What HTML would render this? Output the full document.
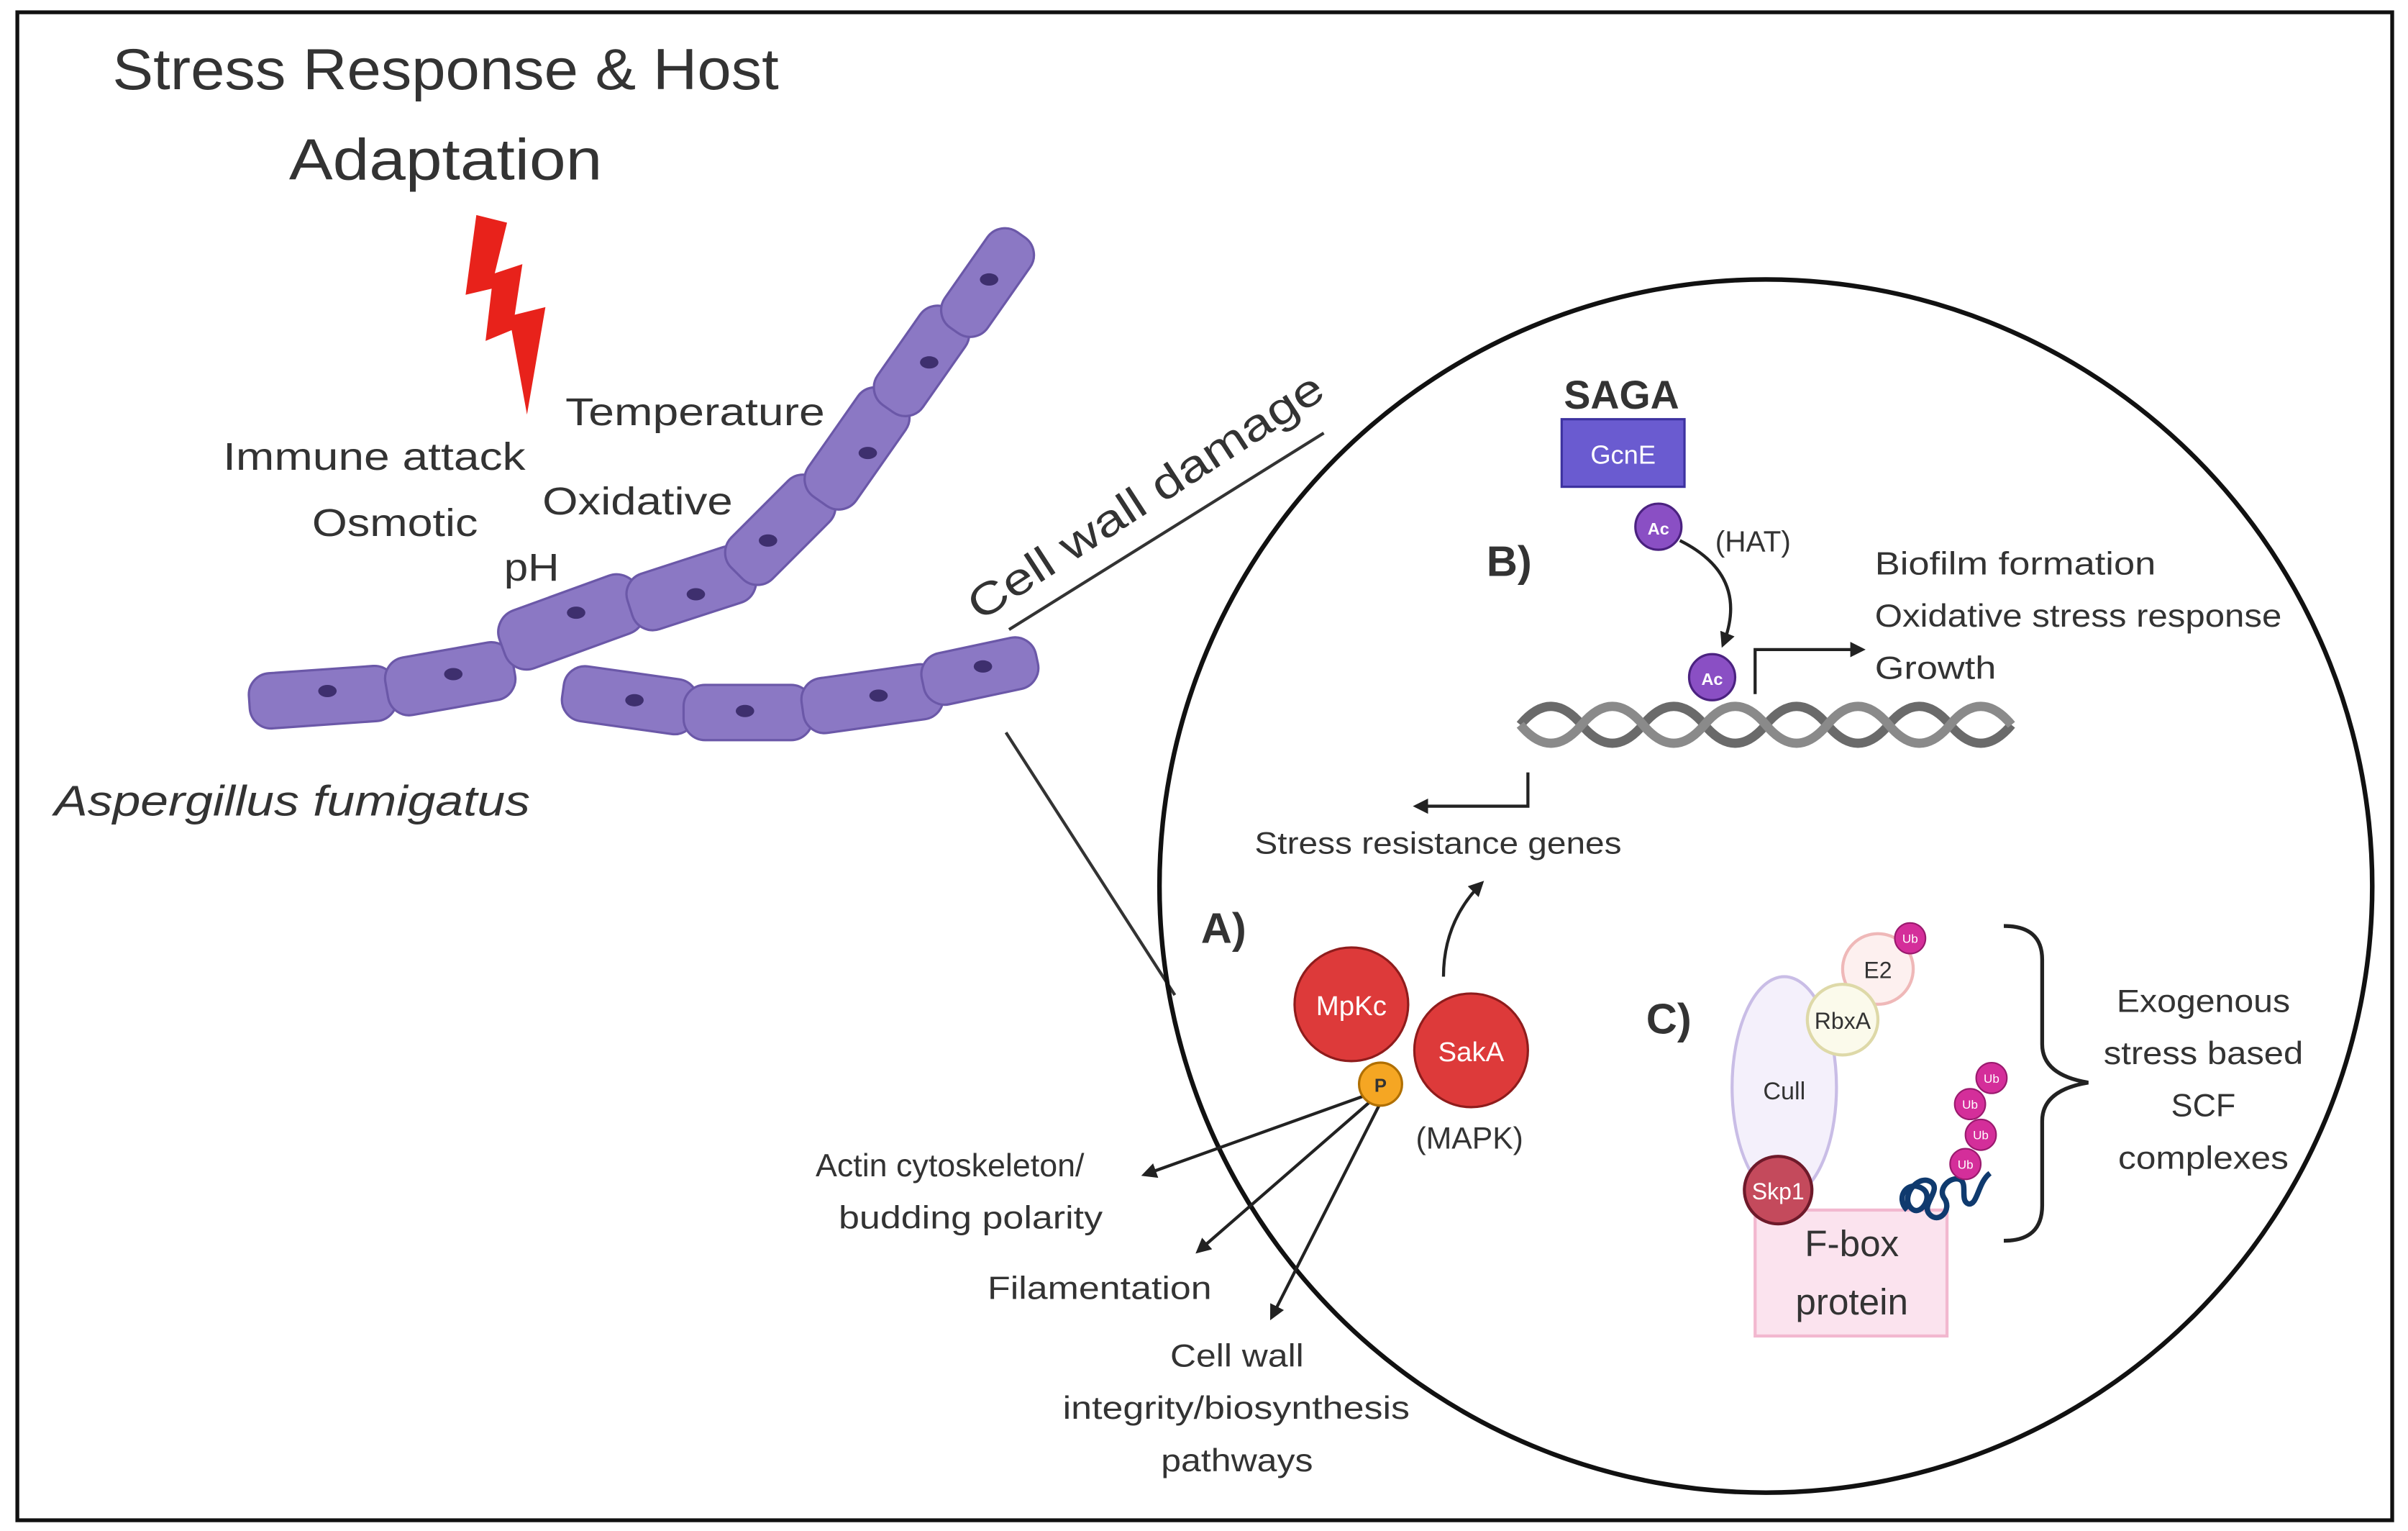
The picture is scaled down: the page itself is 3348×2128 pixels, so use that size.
<!DOCTYPE html>
<html><head><meta charset="utf-8"><style>
html,body{margin:0;padding:0;background:#fff}
svg{display:block}
text{font-family:"Liberation Sans",sans-serif;fill:#333}
</style></head><body>
<svg width="3348" height="2128" viewBox="0 0 1568 997" xmlns="http://www.w3.org/2000/svg">
<defs>
<marker id="ar" markerWidth="10" markerHeight="10" refX="8" refY="5" orient="auto" markerUnits="userSpaceOnUse"><path d="M0,0 L10,5 L0,10 z" fill="#222"/></marker>
</defs>
<rect x="0" y="0" width="1568" height="997" fill="#fff"/>
<rect x="11" y="8" width="1547" height="982" fill="none" stroke="#111" stroke-width="2.5"/>

<text x="73" y="58" font-size="38" textLength="434" lengthAdjust="spacingAndGlyphs">Stress Response &amp; Host</text>
<text x="188" y="117" font-size="38" textLength="204" lengthAdjust="spacingAndGlyphs">Adaptation</text>

<path d="M310,140 L330,145 L322,178 L340,172 L335,205 L355,200 L343,270 L333,215 L316,222 L320,188 L303,192 Z" fill="#e8221b"/>

<text x="368" y="277" font-size="25" textLength="169" lengthAdjust="spacingAndGlyphs">Temperature</text>
<text x="145" y="306" font-size="25" textLength="197" lengthAdjust="spacingAndGlyphs">Immune attack</text>
<text x="353" y="335" font-size="25" textLength="124" lengthAdjust="spacingAndGlyphs">Oxidative</text>
<text x="203" y="349" font-size="25" textLength="108" lengthAdjust="spacingAndGlyphs">Osmotic</text>
<text x="328" y="378" font-size="25" textLength="36" lengthAdjust="spacingAndGlyphs">pH</text>

<g fill="#8b78c4" stroke="#6b58a8" stroke-width="1.5">
<g transform="translate(210,454) rotate(-4)"><rect x="-48" y="-18" width="96" height="36" rx="14"/></g>
<g transform="translate(293,442) rotate(-10)"><rect x="-42" y="-19" width="84" height="38" rx="14"/></g>
<g transform="translate(410,456) rotate(8)"><rect x="-44" y="-18" width="88" height="36" rx="14"/></g>
<g transform="translate(487,464) rotate(0)"><rect x="-42" y="-18" width="84" height="36" rx="14"/></g>
<g transform="translate(568,455) rotate(-8)"><rect x="-46" y="-18" width="92" height="36" rx="14"/></g>
<g transform="translate(638,437) rotate(-12)"><rect x="-38" y="-17" width="76" height="34" rx="14"/></g>
<g transform="translate(372,405) rotate(-20)"><rect x="-48" y="-20" width="96" height="40" rx="15"/></g>
<g transform="translate(450,383) rotate(-18)"><rect x="-42" y="-19" width="84" height="38" rx="14"/></g>
<g transform="translate(508,345) rotate(-45)"><rect x="-40" y="-19" width="80" height="38" rx="14"/></g>
<g transform="translate(558,292) rotate(-55)"><rect x="-42" y="-19" width="84" height="38" rx="14"/></g>
<g transform="translate(600,235) rotate(-55)"><rect x="-38" y="-18" width="76" height="36" rx="14"/></g>
<g transform="translate(643,184) rotate(-55)"><rect x="-38" y="-17" width="76" height="34" rx="14"/></g>
</g>
<g fill="#3e2f6e">
<ellipse cx="213" cy="450" rx="6" ry="4"/><ellipse cx="295" cy="439" rx="6" ry="4"/>
<ellipse cx="413" cy="456" rx="6" ry="4"/><ellipse cx="485" cy="463" rx="6" ry="4"/>
<ellipse cx="572" cy="453" rx="6" ry="4"/><ellipse cx="640" cy="434" rx="6" ry="4"/>
<ellipse cx="375" cy="399" rx="6" ry="4"/><ellipse cx="453" cy="387" rx="6" ry="4"/>
<ellipse cx="500" cy="352" rx="6" ry="4"/><ellipse cx="565" cy="295" rx="6" ry="4"/>
<ellipse cx="605" cy="236" rx="6" ry="4"/><ellipse cx="644" cy="182" rx="6" ry="4"/>
</g>

<text x="35" y="531" font-size="28" font-style="italic" textLength="310" lengthAdjust="spacingAndGlyphs">Aspergillus fumigatus</text>

<text x="0" y="0" font-size="29" transform="translate(638,405) rotate(-33)" textLength="270" lengthAdjust="spacingAndGlyphs">Cell wall damage</text>

<line x1="657" y1="410" x2="862" y2="282" stroke="#333" stroke-width="2"/>
<line x1="655" y1="477" x2="765" y2="648" stroke="#333" stroke-width="2"/>

<circle cx="1150" cy="577" r="395" fill="none" stroke="#111" stroke-width="3"/>

<text x="1056" y="266" font-size="26" font-weight="bold" text-anchor="middle" fill="#222">SAGA</text>
<rect x="1017" y="273" width="80" height="44" fill="#6a5bd0" stroke="#3d32a0" stroke-width="1.5"/>
<text x="1057" y="302" font-size="17" text-anchor="middle" style="fill:#fff">GcnE</text>
<circle cx="1080" cy="343" r="15" fill="#8a4fc4" stroke="#4b2280" stroke-width="1.5"/>
<text x="1080" y="348" font-size="11" text-anchor="middle" style="fill:#fff" font-weight="bold">Ac</text>
<text x="1117" y="359" font-size="19">(HAT)</text>
<text x="968" y="375" font-size="28" font-weight="bold" fill="#222">B)</text>
<path d="M1094,352 Q1140,375 1122,420" fill="none" stroke="#222" stroke-width="2" marker-end="url(#ar)"/>

<g fill="none" stroke-width="6">
<path d="M990,472 q20,-24 40,0 t40,0 t40,0 t40,0 t40,0 t40,0 t40,0 t40,0" stroke="#6a6a6a"/>
<path d="M990,472 q20,24 40,0 t40,0 t40,0 t40,0 t40,0 t40,0 t40,0 t40,0" stroke="#8a8a8a"/>
</g>
<circle cx="1115" cy="441" r="15" fill="#8a4fc4" stroke="#4b2280" stroke-width="1.5"/>
<text x="1115" y="446" font-size="11" text-anchor="middle" style="fill:#fff" font-weight="bold">Ac</text>
<path d="M1143,452 L1143,423 L1213,423" fill="none" stroke="#222" stroke-width="2" marker-end="url(#ar)"/>
<text x="1221" y="374" font-size="21" textLength="183" lengthAdjust="spacingAndGlyphs">Biofilm formation</text>
<text x="1221" y="408" font-size="21" textLength="265" lengthAdjust="spacingAndGlyphs">Oxidative stress response</text>
<text x="1221" y="442" font-size="21" textLength="79" lengthAdjust="spacingAndGlyphs">Growth</text>

<path d="M995,503 L995,525 L922,525" fill="none" stroke="#222" stroke-width="2" marker-end="url(#ar)"/>
<text x="817" y="556" font-size="20" textLength="239" lengthAdjust="spacingAndGlyphs">Stress resistance genes</text>
<text x="782" y="614" font-size="28" font-weight="bold" fill="#222">A)</text>
<path d="M940,636 Q940,600 965,575" fill="none" stroke="#222" stroke-width="2" marker-end="url(#ar)"/>

<circle cx="880" cy="654" r="37" fill="#dd3a3a" stroke="#8f1c1c" stroke-width="1.5"/>
<text x="880" y="661" font-size="18" text-anchor="middle" style="fill:#fff">MpKc</text>
<circle cx="958" cy="684" r="37" fill="#dd3a3a" stroke="#8f1c1c" stroke-width="1.5"/>
<text x="958" y="691" font-size="18" text-anchor="middle" style="fill:#fff">SakA</text>
<text x="922" y="748" font-size="20">(MAPK)</text>
<line x1="893" y1="712" x2="745" y2="765" stroke="#222" stroke-width="2" marker-end="url(#ar)"/>
<line x1="895" y1="715" x2="780" y2="815" stroke="#222" stroke-width="2" marker-end="url(#ar)"/>
<line x1="899" y1="718" x2="828" y2="858" stroke="#222" stroke-width="2" marker-end="url(#ar)"/>
<circle cx="899" cy="706" r="14" fill="#f5a623" stroke="#b06f00" stroke-width="1.5"/>
<text x="899" y="711" font-size="12" text-anchor="middle" font-weight="bold" fill="#222">P</text>

<text x="531" y="766" font-size="21" textLength="175" lengthAdjust="spacingAndGlyphs">Actin cytoskeleton/</text>
<text x="546" y="800" font-size="21" textLength="172" lengthAdjust="spacingAndGlyphs">budding polarity</text>
<text x="643" y="846" font-size="21" textLength="146" lengthAdjust="spacingAndGlyphs">Filamentation</text>
<text x="762" y="890" font-size="21" textLength="87" lengthAdjust="spacingAndGlyphs">Cell wall</text>
<text x="692" y="924" font-size="21" textLength="226" lengthAdjust="spacingAndGlyphs">integrity/biosynthesis</text>
<text x="756" y="958" font-size="21" textLength="99" lengthAdjust="spacingAndGlyphs">pathways</text>

<text x="1072" y="673" font-size="28" font-weight="bold" fill="#222">C)</text>
<rect x="1143" y="788" width="125" height="82" fill="#fbe3ee" stroke="#f2b8cf" stroke-width="2"/>
<text x="1206" y="818" font-size="24" text-anchor="middle" fill="#222">F-box</text>
<text x="1206" y="856" font-size="24" text-anchor="middle" fill="#222">protein</text>
<ellipse cx="1162" cy="708" rx="34" ry="72" fill="#f4f0fb" stroke="#c9bde6" stroke-width="2"/>
<text x="1162" y="716" font-size="16" text-anchor="middle">Cull</text>
<circle cx="1223" cy="631" r="23" fill="#fdf0ef" stroke="#efb8b8" stroke-width="2"/>
<text x="1223" y="637" font-size="15" text-anchor="middle">E2</text>
<circle cx="1200" cy="664" r="23" fill="#fbfaeb" stroke="#ded9a8" stroke-width="2"/>
<text x="1200" y="670" font-size="15" text-anchor="middle">RbxA</text>
<circle cx="1244" cy="611" r="10" fill="#d42e9a" stroke="#9a1a6e"/>
<text x="1244" y="614" font-size="8" text-anchor="middle" style="fill:#fff">Ub</text>
<circle cx="1158" cy="775" r="22" fill="#c44a5c" stroke="#6e1a2a" stroke-width="2"/>
<text x="1158" y="781" font-size="15" text-anchor="middle" style="fill:#fff">Skp1</text>
<path d="M1242,788 c-8,-8 0,-20 10,-14 c8,5 -2,20 -8,12 c-6,-8 6,-22 14,-16 c6,5 -6,14 -2,20 c6,8 16,-2 10,-10 c-4,-6 4,-14 10,-12 c6,2 0,14 6,16 c6,1 6,-14 14,-20" fill="none" stroke="#0f3a6e" stroke-width="3.5"/>
<g fill="#d42e9a" stroke="#9a1a6e">
<circle cx="1280" cy="758" r="10"/><circle cx="1290" cy="739" r="10"/><circle cx="1283" cy="719" r="10"/><circle cx="1297" cy="702" r="10"/>
</g>
<g font-size="8" text-anchor="middle">
<text x="1280" y="761" style="fill:#fff">Ub</text><text x="1290" y="742" style="fill:#fff">Ub</text><text x="1283" y="722" style="fill:#fff">Ub</text><text x="1297" y="705" style="fill:#fff">Ub</text>
</g>
<path d="M1305,603 Q1330,603 1330,625 L1330,680 Q1330,700 1360,705 Q1330,710 1330,730 L1330,785 Q1330,808 1305,808" fill="none" stroke="#222" stroke-width="2.5"/>
<text x="1435" y="659" font-size="21" text-anchor="middle" textLength="113" lengthAdjust="spacingAndGlyphs">Exogenous</text>
<text x="1435" y="693" font-size="21" text-anchor="middle" textLength="130" lengthAdjust="spacingAndGlyphs">stress based</text>
<text x="1435" y="727" font-size="21" text-anchor="middle">SCF</text>
<text x="1435" y="761" font-size="21" text-anchor="middle" textLength="111" lengthAdjust="spacingAndGlyphs">complexes</text>
</svg>
</body></html>
